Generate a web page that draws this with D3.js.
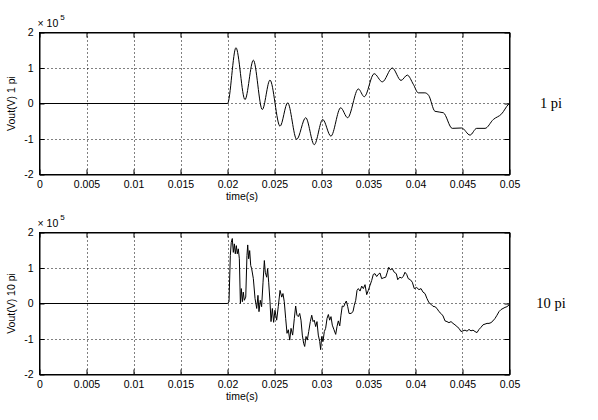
<!DOCTYPE html>
<html lang="en">
  <head>
    <meta charset="utf-8">
    <title>Vout vs time</title>
    <script src="https://d3js.org/d3.v7.js"></script>
    <style>
      body { margin: 0; background: white; }
      svg text { font-family: "Liberation Sans", Arial, sans-serif; font-size: 10.5px; fill: black; }
      .grid line { stroke: black; stroke-width: 1; stroke-dasharray: 1,3; }
      .side { font-family: "Liberation Serif", "Times New Roman", serif !important; font-size: 14.5px !important; }
    </style>
  </head>
  <body>
    <script>
      // axis ticks
      const xTicks = [0, 0.005, 0.01, 0.015, 0.02, 0.025, 0.03, 0.035, 0.04, 0.045, 0.05];
      const xTickLabels = ["0", "0.005", "0.01", "0.015", "0.02", "0.025", "0.03", "0.035", "0.04", "0.045", "0.05"];
      const yTicks = [-2, -1, 0, 1, 2];
      const yTickLabels = ["-2", "-1", "0", "1", "2"];

      // 1 pi trace (time in s, Vout in 1e5 V)
      const time1 = [0, 0.02, 0.0209, 0.02186, 0.02275, 0.0237, 0.02452, 0.02559, 0.0264, 0.02736,
                     0.02832, 0.02923, 0.03013, 0.0310, 0.03204, 0.03278, 0.03392, 0.03455, 0.0356, 0.03647,
                     0.03753, 0.03846, 0.03913, 0.03977, 0.0403, 0.0410, 0.0414, 0.04207, 0.04296, 0.04391,
                     0.04491, 0.0458, 0.04651, 0.0474, 0.04828, 0.04917, 0.04987, 0.05];
      const vout1 = [0, 0, 1.57, 0.11, 1.22, -0.17, 0.66, -0.64, 0.02, -1.01,
                     -0.40, -1.16, -0.45, -0.92, -0.12, -0.40, 0.41, 0.19, 0.84, 0.61,
                     1.00, 0.65, 0.80, 0.54, 0.30, 0.30, 0.23, -0.22, -0.26, -0.70,
                     -0.69, -0.89, -0.70, -0.70, -0.45, -0.29, -0.03, 0];

      // 10 pi trace
      const time10 = [0, 0.0200, 0.02016, 0.0203, 0.0204, 0.02051, 0.02062, 0.02073, 0.02083, 0.02094,
                      0.02104, 0.02115, 0.02126, 0.02137, 0.02147, 0.02158, 0.02168, 0.02179, 0.02194, 0.02207,
                      0.02215, 0.02225, 0.02236, 0.02247, 0.02257, 0.02275, 0.02293, 0.02311, 0.02324, 0.02335,
                      0.02349, 0.02363, 0.02378, 0.02392, 0.02402, 0.02417, 0.02427, 0.02438, 0.02452, 0.02463,
                      0.02477, 0.02491, 0.02505, 0.02523, 0.0254, 0.02559, 0.02577, 0.0259, 0.02604, 0.02619,
                      0.02633, 0.02647, 0.02662, 0.02676, 0.02693, 0.02711, 0.02725, 0.02739, 0.02753, 0.02768,
                      0.02782, 0.02796, 0.0281, 0.02821, 0.02835, 0.02849, 0.02864, 0.02881, 0.02896, 0.0291,
                      0.02923, 0.02938, 0.02952, 0.02966, 0.02981, 0.02991, 0.03002, 0.03016, 0.0303, 0.03044,
                      0.03059, 0.03073, 0.03087, 0.03101, 0.03115, 0.03133, 0.03151, 0.03165, 0.03179, 0.03194,
                      0.03207, 0.03221, 0.03236, 0.0325, 0.03264, 0.03279, 0.03293, 0.03314, 0.03335, 0.03349,
                      0.03364, 0.03378, 0.03392, 0.0341, 0.03428, 0.03445, 0.03463, 0.03481, 0.03498, 0.03516,
                      0.03534, 0.03551, 0.03569, 0.03587, 0.03604, 0.03622, 0.0364, 0.03657, 0.03683, 0.037,
                      0.03715, 0.03732, 0.03753, 0.03774, 0.03796, 0.03811, 0.03832, 0.03853, 0.0387, 0.03888,
                      0.03906, 0.03923, 0.03945, 0.03966, 0.03987, 0.04013, 0.04037, 0.04059, 0.0408, 0.04101,
                      0.04122, 0.04144, 0.04165, 0.04186, 0.04207, 0.04229, 0.0425, 0.04271, 0.04293, 0.04314,
                      0.04335, 0.04356, 0.04378, 0.04399, 0.0442, 0.04441, 0.04463, 0.04484, 0.04505, 0.04527,
                      0.04548, 0.04569, 0.0459, 0.04612, 0.04633, 0.04654, 0.04676, 0.04697, 0.04718, 0.0474,
                      0.04761, 0.04782, 0.04803, 0.04824, 0.04846, 0.04867, 0.04888, 0.0491, 0.04931, 0.04952,
                      0.04973, 0.04995, 0.05];
      const vout10 = [0, 0, 0.05, 1.35, 1.72, 1.83, 1.44, 1.68, 1.40, 1.63,
                      1.40, 1.54, 1.26, 0.0, 0.42, 0.05, 0.32, 0.09, 0.18, 1.35,
                      1.65, 1.26, 1.49, 1.07, 0.98, 0.70, 0.14, -0.14, 0.23, -0.23,
                      0.09, -0.09, 0.60, 1.21, 0.88, 0.74, 0.98, 0.60, 0.05, -0.51,
                      -0.14, -0.53, -0.19, -0.47, -0.09, 0.37, 0.18, 0.28, 0.05, -0.42,
                      -0.84, -0.74, -1.03, -0.70, -0.89, -0.42, -0.07, -0.33, -0.37, -0.28,
                      -0.47, -0.89, -1.12, -1.21, -0.93, -1.03, -0.79, -0.51, -0.33, -0.51,
                      -0.47, -0.65, -0.51, -0.89, -1.07, -1.30, -0.93, -1.07, -0.79, -0.70,
                      -0.42, -0.31, -0.47, -0.37, -0.61, -0.74, -0.87, -0.65, -0.49, -0.63,
                      -0.33, -0.07, -0.09, 0.0, 0.07, -0.09, -0.28, -0.28, -0.23, -0.05,
                      0.09, 0.37, 0.42, 0.35, 0.49, 0.42, 0.53, 0.25, 0.37, 0.51,
                      0.65, 0.82, 0.84, 0.76, 0.82, 0.86, 0.70, 0.72, 0.74, 0.88,
                      1.02, 0.95, 0.98, 0.88, 0.84, 0.67, 0.74, 0.72, 0.76, 0.88,
                      0.82, 0.70, 0.67, 0.60, 0.42, 0.45, 0.39, 0.42, 0.32, 0.28,
                      0.14, 0.02, -0.02, -0.08, -0.09, -0.14, -0.23, -0.28, -0.35, -0.49,
                      -0.51, -0.54, -0.51, -0.56, -0.60, -0.65, -0.70, -0.79, -0.77, -0.75,
                      -0.78, -0.73, -0.77, -0.75, -0.79, -0.82, -0.73, -0.67, -0.60, -0.58,
                      -0.56, -0.56, -0.54, -0.49, -0.42, -0.33, -0.23, -0.17, -0.14, -0.11,
                      -0.09, -0.04, -0.02];

      const w = 598;
      const h = 420;
      const left = 39.5;
      const right = 509.5;
      const tickLen = 5;

      const svg = d3.select("body")
                    .append("svg")
                    .attr("width", w)
                    .attr("height", h);

      svg.append("rect")
         .attr("width", w)
         .attr("height", h)
         .attr("fill", "white");

      const xScale = d3.scaleLinear()
                       .domain([0, 0.05])
                       .range([left, right]);

      function drawPanel(top, bottom, times, values, yLabel, sideLabel, smooth) {
        const yScale = d3.scaleLinear()
                         .domain([-2, 2])
                         .range([bottom, top]);

        const g = svg.append("g");

        // dotted grid
        const grid = g.append("g").attr("class", "grid");
        grid.selectAll(".gx")
            .data(xTicks.slice(1, -1))
            .enter().append("line")
            .attr("x1", d => Math.round(xScale(d)) + 0.5)
            .attr("x2", d => Math.round(xScale(d)) + 0.5)
            .attr("y1", top)
            .attr("y2", bottom);
        grid.selectAll(".gy")
            .data(yTicks.slice(1, -1))
            .enter().append("line")
            .attr("x1", left)
            .attr("x2", right)
            .attr("y1", d => Math.round(yScale(d) - 0.5) + 0.5)
            .attr("y2", d => Math.round(yScale(d) - 0.5) + 0.5);

        // axes: labels on bottom/left, ticks inward on all four sides
        const xAxis = d3.axisBottom(xScale)
                        .tickValues(xTicks)
                        .tickSizeInner(-tickLen)
                        .tickSizeOuter(0)
                        .tickPadding(6)
                        .tickFormat((d, i) => xTickLabels[i]);
        const xAxisTop = d3.axisTop(xScale)
                           .tickValues(xTicks)
                           .tickSizeInner(-tickLen)
                           .tickSizeOuter(0)
                           .tickFormat("");
        const yAxis = d3.axisLeft(yScale)
                        .tickValues(yTicks)
                        .tickSizeInner(-tickLen)
                        .tickSizeOuter(0)
                        .tickPadding(6)
                        .tickFormat((d, i) => yTickLabels[i]);
        const yAxisRight = d3.axisRight(yScale)
                             .tickValues(yTicks)
                             .tickSizeInner(-tickLen)
                             .tickSizeOuter(0)
                             .tickFormat("");

        [
          [xAxis, `translate(0, ${bottom})`],
          [xAxisTop, `translate(0, ${top})`],
          [yAxis, `translate(${left}, 0)`],
          [yAxisRight, `translate(${right}, 0)`]
        ].forEach(([ax, tr]) => {
          const a = g.append("g").attr("transform", tr).call(ax);
          a.selectAll("text").attr("font-size", null).attr("font-family", null);
          a.selectAll("line, path").attr("stroke", "black");
        });

        // signal
        const line = d3.line()
                       .x(d => xScale(d[0]))
                       .y(d => yScale(d[1]))
                       .curve(smooth ? d3.curveMonotoneX : d3.curveLinear);
        g.append("path")
         .datum(d3.zip(times, values))
         .attr("fill", "none")
         .attr("stroke", "black")
         .attr("stroke-width", 1)
         .attr("d", line);

        // box
        g.append("rect")
         .attr("x", left)
         .attr("y", top)
         .attr("width", right - left)
         .attr("height", bottom - top)
         .attr("fill", "none")
         .attr("stroke", "black");

        // exponent
        const ex = g.append("text")
                    .attr("x", left - 2)
                    .attr("y", top - 6);
        ex.append("tspan").text("\u00d7 10");
        ex.append("tspan")
          .attr("dy", -7)
          .attr("dx", 2)
          .style("font-size", "8px")
          .text("5");

        g.append("text")
         .attr("transform", `translate(15, ${(top + bottom) / 2}) rotate(-90)`)
         .attr("text-anchor", "middle")
         .text(yLabel);

        g.append("text")
         .attr("x", 242)
         .attr("y", bottom + 25)
         .attr("text-anchor", "middle")
         .text("time(s)");

        g.append("text")
         .attr("class", "side")
         .attr("x", 551)
         .attr("y", yScale(0) + 4)
         .attr("text-anchor", "middle")
         .text(sideLabel);
      }

      drawPanel(32.5, 174.5, time1, vout1, "Vout(V) 1 pi", "1 pi", true);
      drawPanel(232.5, 374.5, time10, vout10, "Vout(V) 10 pi", "10 pi", false);
    </script>
  </body>
</html>
